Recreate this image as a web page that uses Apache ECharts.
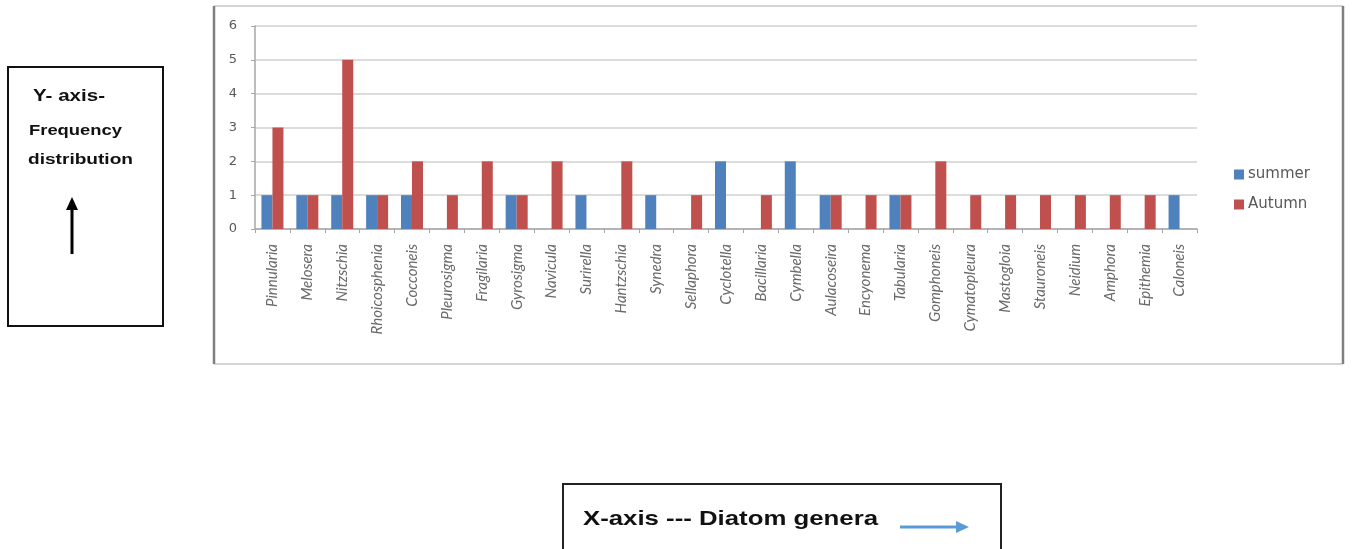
<!DOCTYPE html>
<html>
<head>
<meta charset="utf-8">
<script src="https://cdn.jsdelivr.net/npm/echarts@6/dist/echarts.min.js"></script>
<style>
  html, body { margin: 0; padding: 0; background: #fff; }
  #chart { width: 1353px; height: 549px; }
</style>
</head>
<body>
<div id="chart"></div>
<script>
// Diatom genera recorded per season
const genera = [
  'Pinnularia', 'Melosera', 'Nitzschia', 'Rhoicosphenia', 'Cocconeis', 'Pleurosigma',
  'Fragilaria', 'Gyrosigma', 'Navicula', 'Surirella', 'Hantzschia', 'Synedra',
  'Sellaphora', 'Cyclotella', 'Bacillaria', 'Cymbella', 'Aulacoseira', 'Encyonema',
  'Tabularia', 'Gomphoneis', 'Cymatopleura', 'Mastogloia', 'Stauroneis', 'Neidium',
  'Amphora', 'Epithemia', 'Caloneis'
];
const summer = [1, 1, 1, 1, 1, 0, 0, 1, 0, 1, 0, 1, 0, 2, 0, 2, 1, 0, 1, 0, 0, 0, 0, 0, 0, 0, 1];
const autumn = [3, 1, 5, 1, 2, 1, 2, 1, 2, 0, 2, 0, 1, 0, 1, 0, 1, 1, 1, 2, 1, 1, 1, 1, 1, 1, 0];
const yTicks = [0, 1, 2, 3, 4, 5, 6];

const chart = echarts.init(document.getElementById('chart'), null, { renderer: 'canvas' });

// stretch a bold caption horizontally so it spans a given width
const ctx = document.createElement('canvas').getContext('2d');
function stretch(text, font, width) {
  ctx.font = font;
  return width / ctx.measureText(text).width;
}
function caption(text, size, x, y, width) {
  const font = 'bold ' + size + 'px "Liberation Sans Narrow", "Liberation Sans"';
  return {
    type: 'text', x: x, y: y, scaleX: stretch(text, font, width),
    style: { text: text, font: font, fill: '#111', textVerticalAlign: 'middle' }
  };
}

const graphics = [
  // outer chart frame
  { type: 'line', shape: { x1: 214, y1: 6, x2: 1343, y2: 6 }, style: { stroke: '#d4d4d4', lineWidth: 2 } },
  { type: 'line', shape: { x1: 214, y1: 364, x2: 1343, y2: 364 }, style: { stroke: '#d4d4d4', lineWidth: 2 } },
  { type: 'line', shape: { x1: 214, y1: 6, x2: 214, y2: 364 }, style: { stroke: '#7f7f7f', lineWidth: 2.5 } },
  { type: 'line', shape: { x1: 1343, y1: 6, x2: 1343, y2: 364 }, style: { stroke: '#7f7f7f', lineWidth: 2.5 } },

  // y-axis note box
  { type: 'rect', shape: { x: 8, y: 67, width: 155, height: 259 }, style: { fill: 'none', stroke: '#111', lineWidth: 2 } },
  caption('Y- axis-', 17, 33, 96, 72),
  caption('Frequency', 15, 29, 131, 93),
  caption('distribution', 15, 28, 160, 105),
  { type: 'line', shape: { x1: 72, y1: 254, x2: 72, y2: 206 }, style: { stroke: '#000', lineWidth: 3 } },
  { type: 'polygon', shape: { points: [[72, 197], [66, 210], [78, 210]] }, style: { fill: '#000' } },

  // x-axis note box
  { type: 'rect', shape: { x: 563, y: 484, width: 438, height: 70 }, style: { fill: 'none', stroke: '#222', lineWidth: 2 } },
  caption('X-axis --- Diatom genera', 21, 583, 519, 295),
  { type: 'line', shape: { x1: 900, y1: 527, x2: 958, y2: 527 }, style: { stroke: '#5b9bd5', lineWidth: 3 } },
  { type: 'polygon', shape: { points: [[969, 527], [956, 521], [956, 533]] }, style: { fill: '#5b9bd5' } }
];

const option = {
  animation: false,
  backgroundColor: '#fff',
  grid: { left: 255, right: 156, top: 26, bottom: 320, containLabel: false },
  legend: {
    orient: 'vertical',
    left: 1229,
    top: 162,
    itemWidth: 10,
    itemHeight: 10,
    itemGap: 15,
    icon: 'rect',
    textStyle: { fontFamily: 'DejaVu Sans', fontSize: 15, color: '#595959', padding: [0, 0, 0, -1] },
    data: ['summer', 'Autumn']
  },
  xAxis: {
    type: 'category',
    data: genera,
    axisLine: { lineStyle: { color: '#a6a6a6', width: 1.5 } },
    axisTick: { show: true, length: 4, lineStyle: { color: '#a6a6a6' } },
    axisLabel: {
      rotate: 90,
      interval: 0,
      margin: 15,
      fontFamily: 'Lato',
      fontStyle: 'italic',
      fontSize: 15,
      color: '#6a6a6a'
    }
  },
  yAxis: {
    type: 'value',
    min: yTicks[0],
    max: yTicks[yTicks.length - 1],
    interval: 1,
    axisLine: { show: true, lineStyle: { color: '#a6a6a6', width: 1.5 } },
    axisTick: { show: true, length: 4, lineStyle: { color: '#a6a6a6' } },
    axisLabel: { margin: 18, fontFamily: 'DejaVu Sans', fontSize: 13, color: '#595959' },
    splitLine: { lineStyle: { color: '#d0d0d0', width: 1.5 } }
  },
  series: [
    { name: 'summer', type: 'bar', data: summer, barWidth: 11, barGap: '0%', itemStyle: { color: '#4f81bd' } },
    { name: 'Autumn', type: 'bar', data: autumn, barWidth: 11, barGap: '0%', itemStyle: { color: '#c0504d' } }
  ],
  graphic: graphics
};

chart.setOption(option);
</script>
</body>
</html>
